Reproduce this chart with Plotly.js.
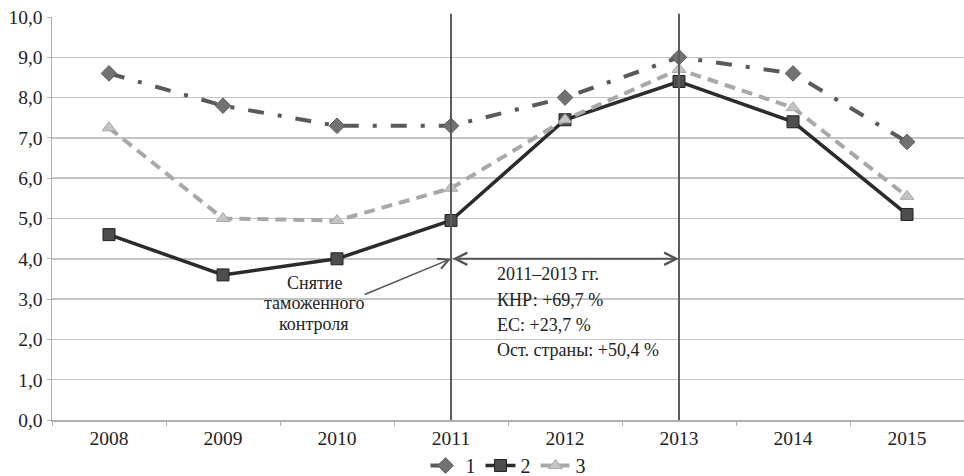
<!DOCTYPE html>
<html>
<head>
<meta charset="utf-8">
<script src="https://cdn.plot.ly/plotly-3.0.1.min.js"></script>
<style>
html,body{margin:0;padding:0;background:#fff;}
#chart{width:964px;height:476px;}
</style>
</head>
<body>
<div id="chart"></div>
<script>
// Data
const years = ['2008','2009','2010','2011','2012','2013','2014','2015'];
const series1 = [8.6, 7.8, 7.3, 7.3, 8.0, 9.0, 8.6, 6.9];
const series2 = [4.6, 3.6, 4.0, 4.95, 7.45, 8.4, 7.4, 5.1];
const series3 = [7.25, 5.0, 4.95, 5.75, 7.45, 8.7, 7.75, 5.55];
const seriesNames = ['1', '2', '3'];
const yTicks = [0,1,2,3,4,5,6,7,8,9,10];

const serif = 'Liberation Serif, DejaVu Serif, serif';

const traces = [
  {
    x: years, y: series1, name: seriesNames[0], type: 'scatter', mode: 'lines+markers',
    line: {color: '#5a5a5a', width: 4, dash: '16px,14px,4px,14px'},
    marker: {symbol: 'diamond', size: 12, color: '#727272', line: {color: '#5a5a5a', width: 1}}
  },
  {
    x: years, y: series2, name: seriesNames[1], type: 'scatter', mode: 'lines+markers',
    line: {color: '#2b2b2b', width: 3.5},
    marker: {symbol: 'square', size: 12, color: '#4d4d4d', line: {color: '#222', width: 1}}
  },
  {
    x: years, y: series3, name: seriesNames[2], type: 'scatter', mode: 'lines+markers',
    line: {color: '#a8a8a8', width: 4, dash: '11px,7px'},
    marker: {symbol: 'triangle-up', size: 12, color: '#c4c4c4', line: {color: '#a8a8a8', width: 1}}
  }
];

const annFont = {family: serif, size: 18, color: '#222'};

const layout = {
  width: 964, height: 476,
  margin: {l: 52, r: 0, t: 17, b: 56, autoexpand: false},
  paper_bgcolor: '#fff', plot_bgcolor: '#fff',
  separators: ', ',
  font: {family: serif, size: 19, color: '#222'},
  showlegend: true,
  legend: {
    orientation: 'h', x: 0.5, xanchor: 'center', yref: 'container', y: 0.022, yanchor: 'middle',
    font: {family: serif, size: 20, color: '#222'}, itemwidth: 30, traceorder: 'normal'
  },
  xaxis: {
    type: 'category', range: [-0.5, 7.5], automargin: false,
    showgrid: false, showline: true, linecolor: '#b0b0b0', linewidth: 1.5,
    ticks: 'outside', tickson: 'boundaries', ticklen: 4, tickcolor: '#b0b0b0',
    tickfont: {family: serif, size: 19.5, color: '#222'}, zeroline: false
  },
  yaxis: {
    range: [0, 10], tickvals: yTicks, tickformat: '.1f', automargin: false,
    showgrid: true, gridcolor: '#c4c4c4', gridwidth: 1.5,
    showline: true, linecolor: '#b0b0b0', linewidth: 1.5,
    ticks: 'outside', ticklen: 4, tickcolor: '#b0b0b0',
    tickfont: {family: serif, size: 19.5, color: '#222'}, zeroline: false
  },
  shapes: [
    {type: 'line', xref: 'x', yref: 'paper', x0: 3, x1: 3, y0: 0, y1: 1.008, line: {color: '#5c5c5c', width: 2}},
    {type: 'line', xref: 'x', yref: 'paper', x0: 5, x1: 5, y0: 0, y1: 1.008, line: {color: '#5c5c5c', width: 2}}
  ],
  annotations: [
    // double arrow 2011-2013
    {x: 5, y: 4, ax: 3, ay: 4, xref: 'x', yref: 'y', axref: 'x', ayref: 'y', text: '',
     showarrow: true, arrowhead: 5, startarrowhead: 5, arrowside: 'end+start', arrowsize: 1.2, startarrowsize: 1.2,
     arrowwidth: 2, arrowcolor: '#555'},
    // arrow from label
    {x: 3, y: 4, ax: 2.23, ay: 3.1, xref: 'x', yref: 'y', axref: 'x', ayref: 'y', text: '',
     showarrow: true, arrowhead: 5, arrowsize: 1.4, arrowwidth: 1.5, arrowcolor: '#555'},
    // left label
    {x: 1.8, y: 3.4, xref: 'x', yref: 'y', text: 'Снятие', showarrow: false, font: annFont, xanchor: 'center', yanchor: 'middle'},
    {x: 1.8, y: 2.9, xref: 'x', yref: 'y', text: 'таможенного', showarrow: false, font: annFont, xanchor: 'center', yanchor: 'middle'},
    {x: 1.8, y: 2.38, xref: 'x', yref: 'y', text: 'контроля', showarrow: false, font: annFont, xanchor: 'center', yanchor: 'middle'},
    // right block
    {x: 3.386, y: 3.62, xref: 'x', yref: 'y', text: '2011–2013 гг.', showarrow: false, font: annFont, xanchor: 'left', yanchor: 'middle'},
    {x: 3.386, y: 2.98, xref: 'x', yref: 'y', text: 'КНР: +69,7 %', showarrow: false, font: annFont, xanchor: 'left', yanchor: 'middle'},
    {x: 3.386, y: 2.36, xref: 'x', yref: 'y', text: 'ЕС: +23,7 %', showarrow: false, font: annFont, xanchor: 'left', yanchor: 'middle'},
    {x: 3.386, y: 1.74, xref: 'x', yref: 'y', text: 'Ост. страны: +50,4 %', showarrow: false, font: annFont, xanchor: 'left', yanchor: 'middle'}
  ]
};

Plotly.newPlot('chart', traces, layout, {displayModeBar: false, staticPlot: true});
</script>
</body>
</html>
